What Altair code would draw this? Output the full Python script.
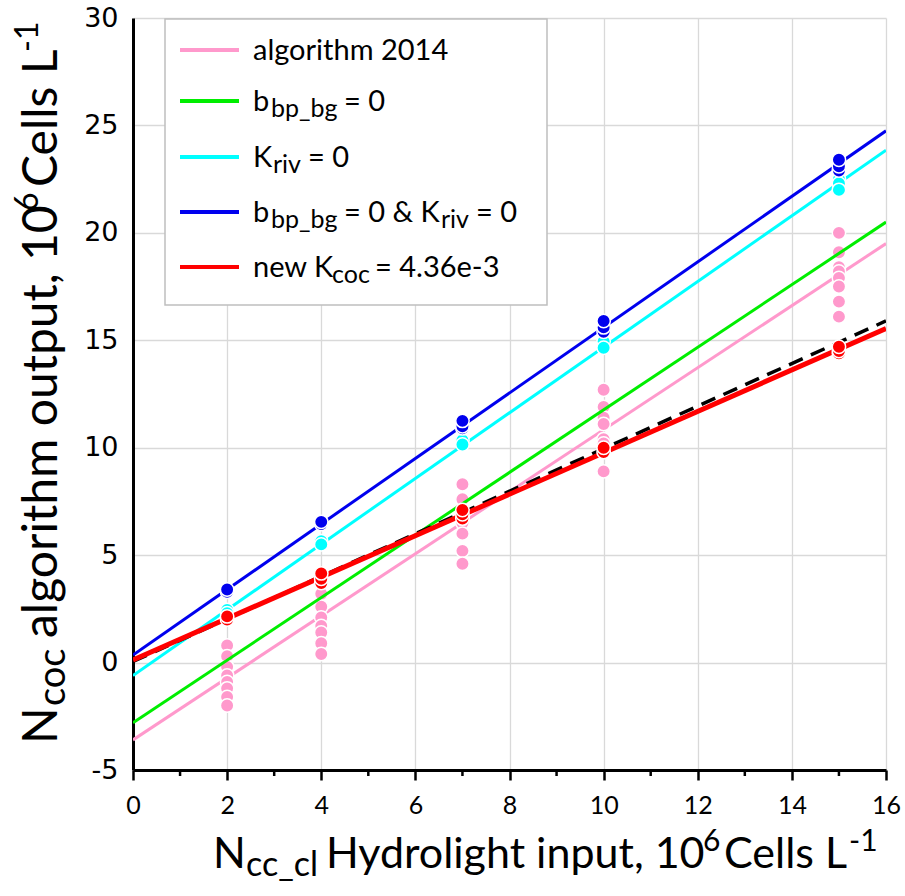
import altair as alt
import pandas as pd

# ---------------- data ----------------
x_levels = [2, 4, 7, 10, 15]

pink_x = [2] * 8 + [4] * 8 + [7] * 8 + [10] * 8 + [15] * 8
pink_y = [0.8, 0.3, -0.2, -0.6, -0.9, -1.2, -1.6, -2.0,
          3.8, 3.2, 2.6, 2.1, 1.7, 1.4, 0.9, 0.4,
          8.3, 7.6, 7.1, 6.7, 6.5, 6.0, 5.2, 4.6,
          12.7, 11.9, 11.4, 11.1, 10.4, 10.2, 9.8, 8.9,
          20.0, 19.1, 18.4, 18.2, 17.9, 17.5, 16.8, 16.1]

cyan_x = [2, 2, 4, 4, 7, 7, 10, 10, 15, 15, 15]
cyan_y = [2.45, 2.3, 5.65, 5.5, 10.35, 10.15, 14.95, 14.65, 22.5, 22.3, 22.0]

blue_x = [2, 2, 4, 4, 7, 7, 7, 10, 10, 10, 15, 15, 15]
blue_y = [3.3, 3.4, 6.45, 6.55, 10.9, 11.0, 11.25, 15.4, 15.6, 15.9, 22.9, 23.1, 23.4]

red_x = [2, 2, 4, 4, 4, 7, 7, 7, 10, 10, 15, 15, 15]
red_y = [2.0, 2.15, 3.7, 3.9, 4.15, 6.7, 6.9, 7.1, 9.8, 10.0, 14.4, 14.5, 14.7]

line_x = [0, 16]
pink_line = [-3.6, 19.5]
green_line = [-2.8, 20.5]
cyan_line = [-0.6, 23.85]
blue_line = [0.35, 24.75]
red_line = [0.12, 15.55]
one_to_one = [0.05, 15.9]

x_ticks = [0, 2, 4, 6, 8, 10, 12, 14, 16]
x_minor = [1, 3, 5, 7, 9, 11, 13, 15]
y_ticks = [-5, 0, 5, 10, 15, 20, 25, 30]

# ---------------- style ----------------
PINK = "#FF99CC"
GREEN = "#00EE00"
CYAN = "#00FFFF"
BLUE = "#0000EE"
RED = "#FF0000"

W, H = 753, 752
PADL, PADT = 133, 18
FONT = "Lato"


def px(v):
    return v - PADL


def py(v):
    return v - PADT


xs = alt.Scale(domain=[0, 16], nice=False, zero=False)
ys = alt.Scale(domain=[-5, 30], nice=False, zero=False)

xaxis = alt.Axis(values=x_ticks, tickSize=10, tickWidth=2.5, tickColor="black",
                 domainColor="black", domainWidth=3, grid=True,
                 gridColor="#D9D9D9", gridWidth=1.3, labelFont=FONT,
                 labelFontSize=25, labelColor="black", labelPadding=13,
                 labelFlush=False, title=None)
yaxis = alt.Axis(values=y_ticks, ticks=False, domainColor="black",
                 domainWidth=3, grid=True, gridColor="#D9D9D9", gridWidth=1.3,
                 labelFont="DejaVu Sans", labelFontSize=27, labelColor="black",
                 labelPadding=15, labelExpr="'' + datum.value", title=None)


def X(field="x"):
    return alt.X(f"{field}:Q", scale=xs, axis=xaxis)


def Y(field="y"):
    return alt.Y(f"{field}:Q", scale=ys, axis=yaxis)


one = alt.Data(values=[{"k": 1}])


def line_layer(ys_vals, color, width, dash=None):
    df = pd.DataFrame({"x": line_x, "y": ys_vals})
    kw = dict(color=color, strokeWidth=width, clip=True)
    if dash:
        kw["strokeDash"] = dash
    return alt.Chart(df).mark_line(**kw).encode(x=X(), y=Y())


def pts_layer(xv, yv, color):
    df = pd.DataFrame({"x": xv, "y": yv})
    return alt.Chart(df).mark_point(filled=True, fill=color, stroke="white",
                                    strokeWidth=1.5, size=180, opacity=1,
                                    shape="circle").encode(x=X(), y=Y())


def txt(s, x, y, size, angle=0, font=FONT):
    return alt.Chart(one).mark_text(text=s, font=font, fontSize=size,
                                    angle=angle, align="left",
                                    baseline="alphabetic",
                                    color="black").encode(
        x=alt.value(px(x)), y=alt.value(py(y)))


layers = []
minor = alt.Chart(pd.DataFrame({"x": x_minor})).mark_rule(
    color="black", strokeWidth=2.5).encode(x=X(), y=alt.value(H), y2=alt.value(H + 6))
layers.append(minor)
layers.append(line_layer(pink_line, PINK, 3))
layers.append(pts_layer(pink_x, pink_y, PINK))
layers.append(line_layer(green_line, GREEN, 3))
layers.append(line_layer(cyan_line, CYAN, 3))
layers.append(pts_layer(cyan_x, cyan_y, CYAN))
layers.append(line_layer(blue_line, BLUE, 3))
layers.append(pts_layer(blue_x, blue_y, BLUE))
layers.append(line_layer(one_to_one, "black", 3.5, dash=[15, 9]))
layers.append(line_layer(red_line, RED, 5))
layers.append(pts_layer(red_x, red_y, RED))

# ---------------- legend ----------------
layers.append(alt.Chart(one).mark_rect(fill="white", stroke="#BFBFBF",
                                       strokeWidth=1.5).encode(
    x=alt.value(px(165)), x2=alt.value(px(547)),
    y=alt.value(py(19)), y2=alt.value(py(305))))

leg_colors = [PINK, GREEN, CYAN, BLUE, RED]
leg_rows = [50, 101, 157, 212, 267]
for c, r in zip(leg_colors, leg_rows):
    layers.append(alt.Chart(one).mark_rule(color=c, strokeWidth=4).encode(
        x=alt.value(px(180)), x2=alt.value(px(239)), y=alt.value(py(r))))

LS, LSS = 29, 25
b = [r + 10 for r in leg_rows]
layers += [
    txt("algorithm 2014", 253, b[0], LS),
    txt("b", 253, b[1], LS), txt("bp_bg", 271, b[1] + 6, LSS), txt("= 0", 344, b[1], LS),
    txt("K", 253, b[2], LS), txt("riv", 273, b[2] + 6, LSS), txt("= 0", 308, b[2], LS),
    txt("b", 253, b[3], LS), txt("bp_bg", 271, b[3] + 6, LSS), txt("= 0 & K", 344, b[3], LS),
    txt("riv", 441, b[3] + 6, LSS), txt("= 0", 476, b[3], LS),
    txt("new K", 253, b[4], LS), txt("coc", 332, b[4] + 6, LSS), txt("= 4.36e-3", 375, b[4], LS),
]

# ---------------- axis titles ----------------
xb = 868
layers += [
    txt("N", 213, xb, 43),
    txt("cc_cl", 246, xb + 8, 34),
    txt("Hydrolight input, 10", 326, xb, 43),
    txt("6", 703, xb - 17, 30),
    txt("Cells L", 724, xb, 43),
    txt("-1", 849, xb - 17, 30),
]
yb = 57
layers += [
    txt("N", yb, 744, 48, angle=270),
    txt("coc", yb + 8, 706, 38, angle=270),
    txt("algorithm output, 10", yb, 638, 48, angle=270),
    txt("6", yb - 19, 211, 32, angle=270),
    txt("Cells L", yb, 187, 48, angle=270),
    txt("-1", yb - 19, 52, 32, angle=270),
]

chart = alt.layer(*layers).properties(
    width=W, height=H,
    autosize=alt.AutoSizeParams(type="none"),
    padding={"left": PADL, "top": PADT, "right": 905 - PADL - W, "bottom": 896 - PADT - H},
    background="white",
).configure_view(stroke=None)

chart.save("out.html", embed_options={"renderer": "svg", "actions": False})
